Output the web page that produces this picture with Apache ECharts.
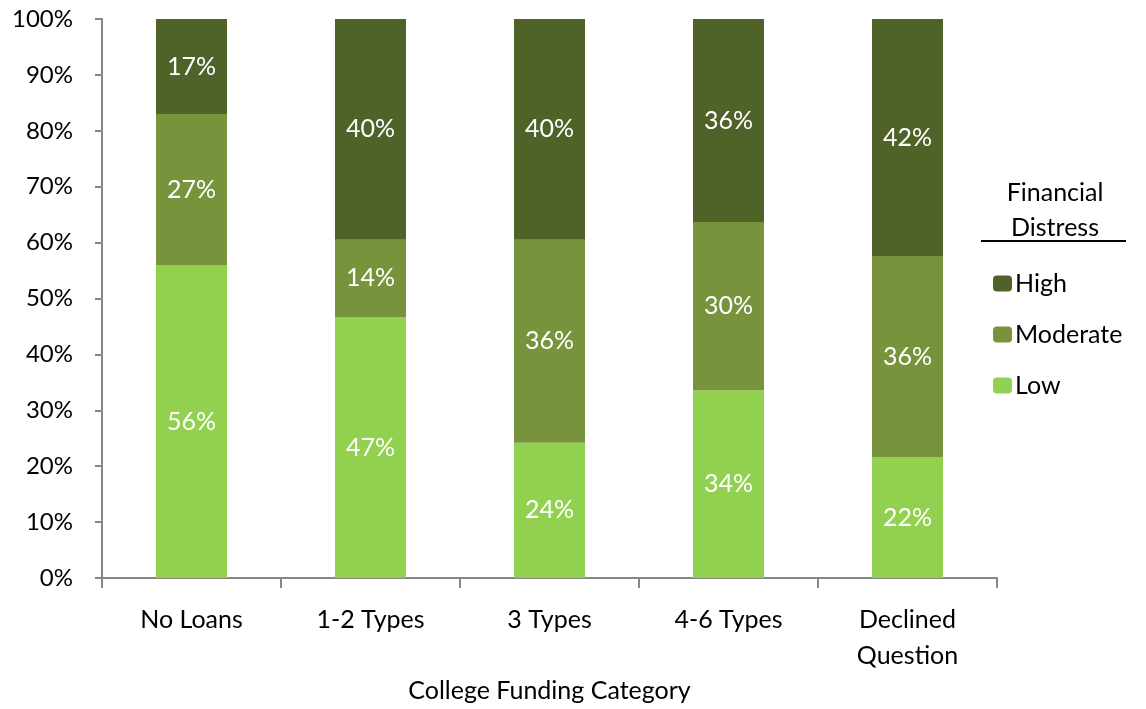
<!DOCTYPE html>
<html><head><meta charset="utf-8">
<script src="https://cdn.jsdelivr.net/npm/echarts@6/dist/echarts.min.js"></script>
<style>html,body{margin:0;padding:0;background:#fff}#c{width:1146px;height:709px}</style>
</head><body><div id="c"></div>
<script>
var categories = ['No Loans', '1-2 Types', '3 Types', '4-6 Types', 'Declined\nQuestion'];
var lowValues = [56.0, 46.7, 24.2, 33.6, 21.6];
var moderateValues = [27.0, 13.8, 36.3, 30.1, 36.0];
var highValues = [17.0, 39.5, 39.5, 36.3, 42.4];
var yTicks = [0, 10, 20, 30, 40, 50, 60, 70, 80, 90, 100];

var FONT = 'Lato, "Open Sans", sans-serif';
var chart = echarts.init(document.getElementById('c'));
function lbl() {
  return { show: true, position: 'inside', color: '#fff', fontFamily: FONT, fontSize: 25,
    formatter: function (p) { return Math.round(p.value) + '%'; } };
}
chart.setOption({
  animation: false,
  grid: { left: 102, right: 149, top: 19, bottom: 131 },
  legend: {
    orient: 'vertical', left: 988, top: 266, itemWidth: 19, itemHeight: 16, itemGap: 26,
    data: ['High', 'Moderate', 'Low'],
    textStyle: { fontFamily: FONT, fontSize: 25, color: '#000', padding: [0, 0, 0, -2] },
    selectedMode: false
  },
  graphic: [
    { type: 'text', x: 1055, y: 180, style: { text: 'Financial', textAlign: 'center', fontFamily: FONT, fontSize: 25, fill: '#000' } },
    { type: 'text', x: 1055, y: 215, style: { text: 'Distress', textAlign: 'center', fontFamily: FONT, fontSize: 25, fill: '#000' } },
    { type: 'line', shape: { x1: 981, y1: 241, x2: 1126, y2: 241 }, style: { stroke: '#000', lineWidth: 2 } }
  ],
  xAxis: {
    type: 'category', data: categories,
    name: 'College Funding Category', nameLocation: 'middle', nameGap: 100,
    nameTextStyle: { fontFamily: FONT, fontSize: 25, color: '#000' },
    axisLine: { lineStyle: { color: '#868686', width: 2 } },
    axisTick: { show: true, length: 10, lineStyle: { color: '#868686', width: 2 } },
    axisLabel: { fontFamily: FONT, fontSize: 25, color: '#000', margin: 24, lineHeight: 36 }
  },
  yAxis: {
    type: 'value', min: 0, max: 100, interval: 10,
    axisLine: { show: true, lineStyle: { color: '#868686', width: 2 } },
    axisTick: { show: true, length: 7, lineStyle: { color: '#868686', width: 2 } },
    splitLine: { show: false },
    axisLabel: { fontFamily: FONT, fontSize: 24, color: '#000', margin: 29,
      formatter: function (v) { return yTicks.indexOf(v) >= 0 ? v + '%' : ''; } }
  },
  series: [
    { name: 'Low', type: 'bar', stack: 's', data: lowValues, barWidth: 71, itemStyle: { color: '#92d050' }, label: lbl() },
    { name: 'Moderate', type: 'bar', stack: 's', data: moderateValues, itemStyle: { color: '#77933c' }, label: lbl() },
    { name: 'High', type: 'bar', stack: 's', data: highValues, itemStyle: { color: '#4f6228' }, label: lbl() }
  ]
});
</script></body></html>
